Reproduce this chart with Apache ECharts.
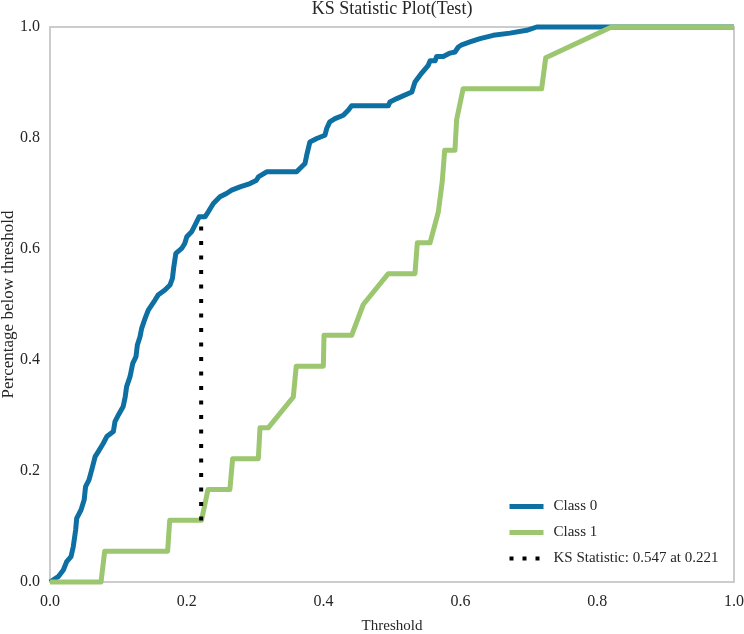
<!DOCTYPE html>
<html>
<head>
<meta charset="utf-8">
<script src="https://cdn.jsdelivr.net/npm/echarts@6/dist/echarts.min.js"></script>
<style>html,body{margin:0;padding:0;background:#fff;}#c{width:744px;height:634px;}</style>
</head>
<body>
<div id="c"></div>
<script>
const titleText = 'KS Statistic Plot(Test)';
const xTicks = [0, 0.2, 0.4, 0.6, 0.8, 1.0];
const class0X = [0, 0.012, 0.0195, 0.0244, 0.0307, 0.034, 0.0375, 0.039, 0.0453, 0.050, 0.052, 0.057, 0.061, 0.066, 0.0706, 0.078, 0.083, 0.0926, 0.095, 0.100, 0.107, 0.110, 0.112, 0.117, 0.121, 0.1257, 0.1277, 0.1316, 0.134, 0.139, 0.1437, 0.1486, 0.1535, 0.158, 0.168, 0.1754, 0.179, 0.181, 0.184, 0.1925, 0.197, 0.200, 0.207, 0.212, 0.218, 0.2266, 0.2314, 0.2388, 0.2485, 0.258, 0.2656, 0.2778, 0.2924, 0.302, 0.3046, 0.3168, 0.3606, 0.3728, 0.3753, 0.380, 0.390, 0.402, 0.4045, 0.409, 0.4167, 0.4288, 0.436, 0.441, 0.4946, 0.497, 0.507, 0.529, 0.5336, 0.5434, 0.553, 0.5556, 0.563, 0.5653, 0.575, 0.5848, 0.592, 0.597, 0.602, 0.614, 0.6287, 0.648, 0.6725, 0.697, 0.7115, 1.0];
const class0Y = [0, 0.0096, 0.0216, 0.0366, 0.0456, 0.0636, 0.0937, 0.1147, 0.1297, 0.148, 0.172, 0.184, 0.202, 0.226, 0.235, 0.25, 0.262, 0.271, 0.289, 0.301, 0.316, 0.334, 0.352, 0.370, 0.394, 0.406, 0.427, 0.442, 0.457, 0.475, 0.490, 0.499, 0.508, 0.517, 0.526, 0.535, 0.547, 0.568, 0.592, 0.601, 0.610, 0.622, 0.631, 0.643, 0.658, 0.658, 0.667, 0.682, 0.694, 0.700, 0.706, 0.712, 0.718, 0.724, 0.730, 0.739, 0.739, 0.754, 0.769, 0.793, 0.799, 0.805, 0.817, 0.829, 0.835, 0.841, 0.850, 0.858, 0.858, 0.865, 0.871, 0.883, 0.901, 0.917, 0.931, 0.939, 0.939, 0.947, 0.947, 0.953, 0.955, 0.964, 0.968, 0.973, 0.979, 0.985, 0.989, 0.994, 1.0, 1.0];
const class1X = [0, 0.0746, 0.080, 0.172, 0.175, 0.2215, 0.231, 0.263, 0.267, 0.3046, 0.307, 0.319, 0.3557, 0.36, 0.3996, 0.4006, 0.441, 0.458, 0.4946, 0.5336, 0.537, 0.5556, 0.5677, 0.5735, 0.577, 0.592, 0.5945, 0.597, 0.604, 0.7188, 0.7247, 0.821, 1.0];
const class1Y = [0, 0, 0.0556, 0.0556, 0.1111, 0.1111, 0.1667, 0.1667, 0.2222, 0.2222, 0.2778, 0.2778, 0.3333, 0.3889, 0.3889, 0.4444, 0.4444, 0.5, 0.5556, 0.5556, 0.6111, 0.6111, 0.6667, 0.7222, 0.7778, 0.7778, 0.8333, 0.8333, 0.8889, 0.8889, 0.9444, 1.0, 1.0];
const ksX = [0.221, 0.221];
const ksY = [0.111, 0.658];
const seriesNames = ['Class 0', 'Class 1', 'KS Statistic: 0.547 at 0.221'];

const pairs = (xs, ys) => xs.map((x, i) => [x, ys[i]]);
const font = "'Liberation Serif', 'Times New Roman', serif";
const textColor = '#262626';
const blue = '#0e6fa3', green = '#9cc66f';

const chart = echarts.init(document.getElementById('c'), null, {renderer: 'canvas'});
chart.setOption({
  animation: false,
  backgroundColor: '#fff',
  title: {
    text: titleText, left: 392, textAlign: 'center', top: 0, padding: 0,
    textStyle: {fontFamily: font, fontSize: 18, fontWeight: 'normal', color: textColor}
  },
  grid: {left: 50, right: 10, top: 27, bottom: 52, outerBoundsMode: 'none', containLabel: false,
         show: true, borderColor: '#cccccc', borderWidth: 2, backgroundColor: '#fff'},
  legend: {
    orient: 'vertical', left: 507, top: 499, padding: 0, itemWidth: 34, itemHeight: 14, itemGap: 11,
    itemStyle: {opacity: 0},
    data: [
      {name: seriesNames[0], lineStyle: {width: 5, color: blue}},
      {name: seriesNames[1], lineStyle: {width: 5, color: green}},
      {name: seriesNames[2], lineStyle: {width: 4, color: '#000', type: [4, 9], cap: 'butt'}}
    ],
    textStyle: {fontFamily: font, fontSize: 15, color: textColor, padding: [0, 0, 0, 5]}
  },
  xAxis: {
    type: 'value', min: 0, max: 1, interval: 0.2,
    name: 'Threshold', nameLocation: 'middle', nameGap: 37, nameMoveOverlap: false,
    nameTextStyle: {fontFamily: font, fontSize: 15, color: textColor},
    axisLine: {show: false}, axisTick: {show: false}, splitLine: {show: false},
    axisLabel: {fontFamily: font, fontSize: 16, color: textColor, margin: 12, formatter: v => v.toFixed(1)}
  },
  yAxis: {
    type: 'value', min: 0, max: 1, interval: 0.2,
    name: 'Percentage below threshold', nameLocation: 'middle', nameGap: 33, nameMoveOverlap: false,
    nameTextStyle: {fontFamily: font, fontSize: 17, color: textColor},
    axisLine: {show: false}, axisTick: {show: false}, splitLine: {show: false},
    axisLabel: {fontFamily: font, fontSize: 16, color: textColor, margin: 10, formatter: v => v.toFixed(1)}
  },
  series: [
    {name: seriesNames[0], type: 'line', data: pairs(class0X, class0Y), symbol: 'none', clip: false,
     lineStyle: {color: blue, width: 5, join: 'round'}, itemStyle: {color: blue}},
    {name: seriesNames[1], type: 'line', data: pairs(class1X, class1Y), symbol: 'none', clip: false,
     lineStyle: {color: green, width: 5, join: 'round'}, itemStyle: {color: green}},
    {name: seriesNames[2], type: 'line', data: pairs(ksX, ksY), symbol: 'none', clip: false,
     lineStyle: {color: '#000', width: 4, type: [4, 10.5], cap: 'butt'}, itemStyle: {color: '#000'}}
  ]
});
</script>
</body>
</html>
